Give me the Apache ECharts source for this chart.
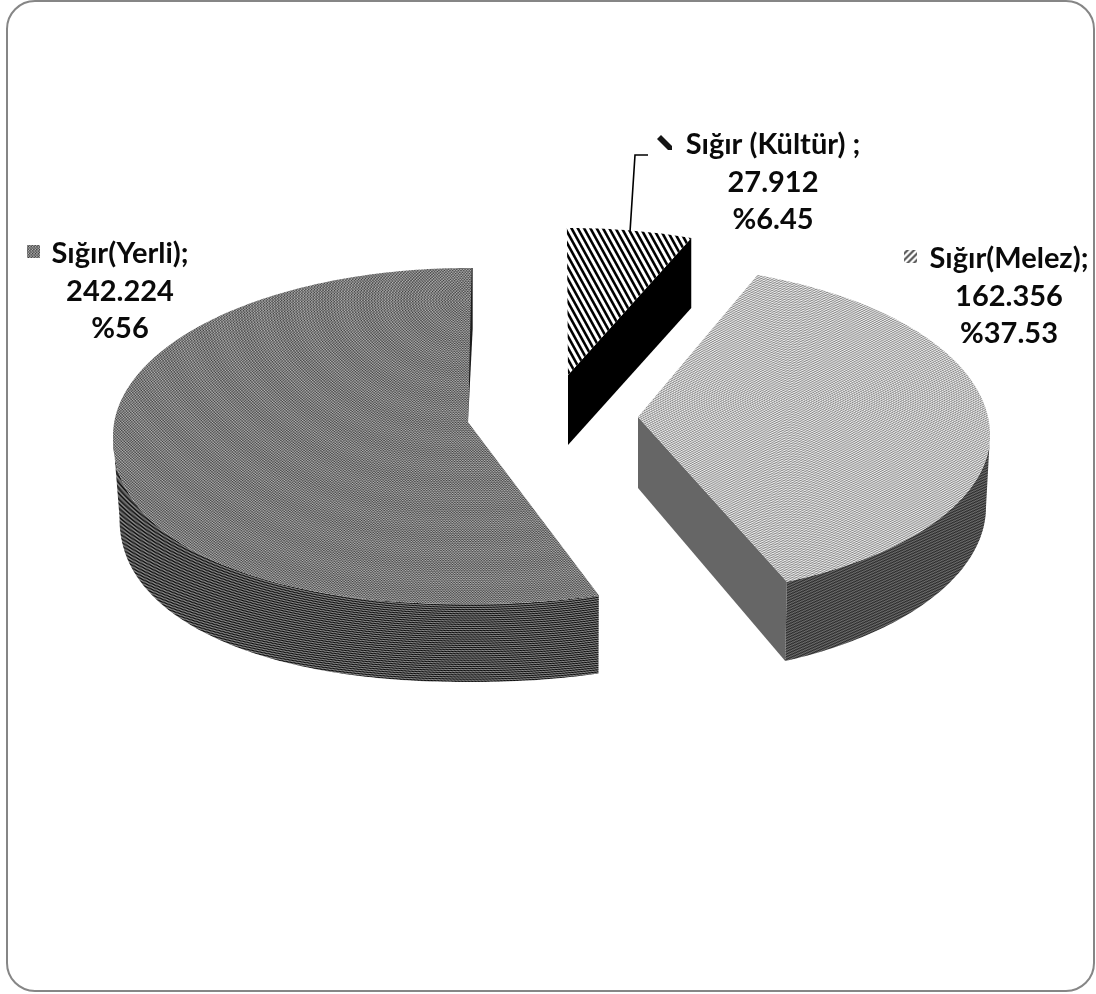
<!DOCTYPE html>
<html>
<head>
<meta charset="utf-8">
<style>html,body{margin:0;padding:0;background:#fff}#chart{width:1096px;height:994px}</style>
<script src="https://cdn.jsdelivr.net/npm/echarts@6/dist/echarts.min.js"></script>
</head>
<body>
<div id="chart"></div>
<script>
// Cattle counts by breed group; wedges run clockwise from twelve o'clock.
const categories = ['Sığır (Kültür) ;', 'Sığır(Melez);', 'Sığır(Yerli);'];
const values = [27.912, 162.356, 242.224];
const valueLabels = ['27.912', '162.356', '242.224'];
const percentLabels = ['%6.45', '%37.53', '%56'];

// Perspective outline of each exploded wedge: top rim (upper and lower half differ),
// apex of the cut, rim of the wall's foot, and the skew of the start angle.
const frames = [
  { cx: 568, cy: 353, a: 315, bUp: 125, bLow: 125, n: 2, ax: 568, ay: 375, depth: 70, turn: -0.2 },
  { cx: 638, cy: 435, a: 352, bUp: 170, bLow: 162, n: 2, ax: 638, ay: 417, depth: 71, turn: -3.4,
    foot: { cx: 638, cy: 507, a: 348, bUp: 170, bLow: 170, n: 2 } },
  { cx: 468, cy: 436, a: 355, bUp: 168, bLow: 168, n: 2.2, ax: 468, ay: 422, depth: 78, turn: 0,
    foot: { cx: 469.5, cy: 517, a: 350, bUp: 165, bLow: 165, n: 2.2 } }
];
const labelAnchors = [
  { x: 773, y: 145, keyX: 657, keyY: 135 },
  { x: 1009, y: 259, keyX: 904, keyY: 250 },
  { x: 120, y: 254, keyX: 27, keyY: 245 }
];

// Builds a page-sized grey tile so hatching stays registered to the canvas.
function tile(w, h, shade) {
  const c = document.createElement('canvas');
  c.width = w; c.height = h;
  const ctx = c.getContext('2d');
  const img = ctx.createImageData(w, h);
  for (let y = 0; y < h; y++) {
    for (let x = 0; x < w; x++) {
      const g = Math.max(0, Math.min(255, shade(x, y)));
      const i = (y * w + x) * 4;
      img.data[i] = img.data[i + 1] = img.data[i + 2] = g;
      img.data[i + 3] = 255;
    }
  }
  ctx.putImageData(img, 0, 0);
  return { image: c, repeat: 'repeat' };
}
const W = 1096, H = 994;
// Fine weaves sampled on the pixel grid beat against it, giving soft woven bands.
const yerliTop = tile(W, H, (x, y) => {
  const r = Math.hypot(x - 470, (y - 300) * 1.5);
  return 122 + 48 * Math.sin((x + r * 0.04) * 2.3) * Math.sin((y + r * 0.05) * 2.3)
    + 14 * Math.sin(r * 2.15) + 2 * Math.cos(r * 0.15);
});
const yerliSide = tile(W, H, (x, y) => {
  const r = Math.hypot(x - 470, (y - 420) * 2.1);
  return 76 + 48 * Math.sin(r * 1.42) + 18 * Math.sin((x - y) * 1.9);
});
const melezTop = tile(W, H, (x, y) => {
  const r = Math.hypot(x - 790, (y - 400) * 1.5);
  return 188 + 38 * Math.sin((x + y * 1.9) * 1.5) + 14 * Math.sin(r * 2.6);
});
const melezSide = tile(W, H, (x, y) => {
  return 76 + 26 * Math.sin((x * 0.55 + y * 1.25) * 1.9) + 8 * ((x + y) % 2 ? 1 : -1);
});
const kulturTop = tile(W, H, (x, y) => {
  const s = Math.sin((x - y * 0.55) * 2 * Math.PI / 6.3);
  return 150 + 230 * s;
});
const melezKey = tile(64, 64, (x, y) => {
  return 175 + 90 * Math.sin((x + y) * 2 * Math.PI / 6.4);
});
const INNER_GREY = '#666666';

const patterns = [
  { top: kulturTop },
  { top: melezTop, wall: melezSide, key: melezKey },
  { top: yerliTop, wall: yerliSide, key: yerliTop }
];

const total = values.reduce((s, v) => s + v, 0);
const rad = d => d * Math.PI / 180;
function rim(f, deg) {
  const s = Math.sin(rad(deg)), c = Math.cos(rad(deg));
  const y = c >= 0
    ? f.cy - f.bUp * c
    : f.cy + f.bLow * Math.pow(1 - Math.pow(Math.abs(s), f.n), 1 / f.n);
  return [f.cx + f.a * s, y];
}
function arc(f, from, to) {
  const pts = [];
  const n = Math.max(2, Math.ceil(Math.abs(to - from)));
  for (let i = 0; i <= n; i++) pts.push(rim(f, from + (to - from) * i / n));
  return pts;
}

function renderWedge(params, api) {
  const i = params.dataIndex;
  const f = frames[i];
  const start = values.slice(0, i).reduce((s, v) => s + v, 0) / total * 360 + f.turn;
  const end = start + api.value(0) / total * 360;
  const children = [];
  const apex = [f.ax, f.ay];
  const poly = (points, fill) => children.push({
    type: 'polygon', shape: { points }, style: { fill, stroke: null }
  });

  if (i === 0) {
    // Cut face of the small wedge, seen from the right.
    const corner = rim(f, end);
    poly([apex, corner, [corner[0], corner[1] + f.depth], [apex[0], apex[1] + f.depth]], '#000000');
  }
  if (i === 1) {
    // Cut face towards the viewer, then the curved outer wall.
    poly([apex, rim(f, end), rim(f.foot, end), [apex[0], apex[1] + f.depth]], INNER_GREY);
    poly(arc(f, 90, end).concat(arc(f.foot, end, 90)), patterns[i].wall);
  }
  if (i === 2) {
    poly(arc(f, start, 270).concat(arc(f.foot, 270, start)), patterns[i].wall);
    // Sliver of the far cut face beside twelve o'clock.
    const tip = rim(f, 360.6);
    poly([[tip[0] - 2, tip[1]], [tip[0] + 1, tip[1]], [tip[0] + 1, tip[1] + 60], apex], '#1c1c1c');
  }
  // Top face.
  const last = i === 2 ? 360.6 : end;
  poly([apex].concat(arc(f, start, last)), patterns[i].top);

  // Data label: key square plus three centred lines.
  const anchor = labelAnchors[i];
  [categories[i], valueLabels[i], percentLabels[i]].forEach((line, k) => {
    children.push({
      type: 'text',
      style: {
        text: line, x: anchor.x, y: anchor.y + k * 37.5,
        align: 'center', verticalAlign: 'middle',
        font: 'bold 29px Lato, "Open Sans", sans-serif', fill: '#0a0a0a'
      }
    });
  });
  if (i === 0) {
    children.push({
      type: 'polygon',
      shape: { points: [[anchor.keyX, anchor.keyY + 4], [anchor.keyX + 4, anchor.keyY],
        [anchor.keyX + 15, anchor.keyY + 11], [anchor.keyX + 15, anchor.keyY + 15], [anchor.keyX + 11, anchor.keyY + 15]] },
      style: { fill: '#151515' }
    });
    // Leader from the wedge up to its label.
    children.push({
      type: 'polyline',
      shape: { points: [[630, 232], [635, 155], [648, 155]] },
      style: { stroke: '#000000', lineWidth: 1.6, fill: null }
    });
  } else {
    children.push({
      type: 'rect',
      shape: { x: anchor.keyX, y: anchor.keyY, width: 13, height: 13 },
      style: { fill: patterns[i].key }
    });
  }
  return { type: 'group', children };
}

const chart = echarts.init(document.getElementById('chart'), null, { renderer: 'canvas' });
chart.setOption({
  animation: false,
  backgroundColor: '#ffffff',
  graphic: [{
    type: 'rect',
    shape: { x: 7, y: 1, width: 1087, height: 990, r: 28 },
    style: { fill: '#ffffff', stroke: '#868686', lineWidth: 2 },
    z: 0
  }],
  series: [{
    type: 'custom',
    coordinateSystem: 'none',
    z: 5,
    silent: true,
    data: values.map(v => [v]),
    renderItem: renderWedge
  }]
});
</script>
</body>
</html>
